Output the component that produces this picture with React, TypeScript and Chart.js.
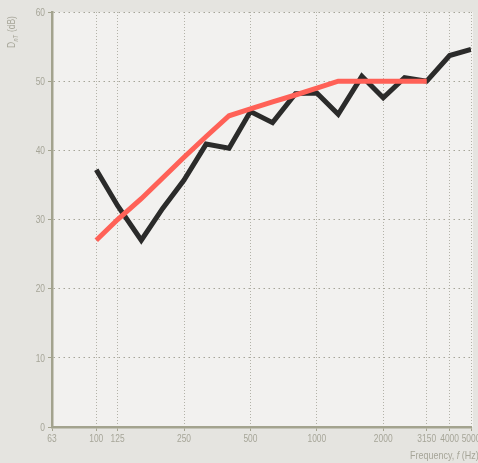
import React, { useEffect, useRef } from "react";
import { Chart, registerables } from "chart.js";

Chart.register(...registerables);

const freqs = [100, 125, 160, 200, 250, 315, 400, 500, 630, 800, 1000, 1250, 1600, 2000, 2500, 3150, 4000, 5000];
const measured = [37.2, 32.0, 27.0, 31.6, 35.7, 40.9, 40.3, 45.6, 44.0, 48.2, 48.3, 45.2, 50.7, 47.6, 50.5, 50.0, 53.7, 54.6];
const refFreqs = [100, 125, 160, 200, 250, 315, 400, 500, 630, 800, 1000, 1250, 1600, 2000, 2500, 3150];
const reference = [27, 30, 33, 36, 39, 42, 45, 46, 47, 48, 49, 50, 50, 50, 50, 50];
const xTicks = [63, 100, 125, 250, 500, 1000, 2000, 3150, 4000, 5000];
const yTicks = [0, 10, 20, 30, 40, 50, 60];

const FONT = "'Liberation Sans', Arial, sans-serif";
const TEXT = "#a6a598";
const SX = 0.78;

type Part = { t: string; italic?: boolean; size: number; dy?: number; gap?: number };

function drawParts(ctx: any, parts: Part[], x: number, y: number, align: "left" | "right" | "center") {
  let total = 0;
  for (const p of parts) {
    ctx.font = (p.italic ? "italic " : "") + p.size + "px " + FONT;
    total += ctx.measureText(p.t).width * SX + (p.gap || 0);
  }
  let cx = align === "left" ? x : align === "right" ? x - total : x - total / 2;
  for (const p of parts) {
    ctx.font = (p.italic ? "italic " : "") + p.size + "px " + FONT;
    ctx.save();
    ctx.translate(cx, y + (p.dy || 0));
    ctx.scale(SX, 1);
    ctx.fillText(p.t, 0, 0);
    ctx.restore();
    cx += ctx.measureText(p.t).width * SX + (p.gap || 0);
  }
}

const bgPlugin = {
  id: "bgPlugin",
  beforeDraw(chart: any) {
    const { ctx, chartArea } = chart;
    ctx.save();
    ctx.fillStyle = "#e5e4e0";
    ctx.fillRect(0, 0, chart.width, chart.height);
    ctx.fillStyle = "#f2f1ef";
    ctx.fillRect(chartArea.left, chartArea.top, chartArea.right - chartArea.left + 2, chartArea.bottom - chartArea.top);
    ctx.restore();
  },
  afterDraw(chart: any) {
    const { ctx } = chart;
    const xs = chart.scales.x;
    const ys = chart.scales.y;
    ctx.save();
    ctx.fillStyle = TEXT;
    ctx.textBaseline = "alphabetic";
    ctx.textAlign = "left";
    for (const v of xTicks) {
      const px = xs.getPixelForValue(v);
      drawParts(ctx, [{ t: String(v), size: 10.8 }], px, 442, "center");
    }
    for (const v of yTicks) {
      const py = ys.getPixelForValue(v);
      drawParts(ctx, [{ t: String(v), size: 10.8 }], 45, py + 3.8, "right");
    }
    drawParts(
      ctx,
      [
        { t: "Frequency, ", size: 11.5 },
        { t: "f", size: 11.5, italic: true, gap: 2.5 },
        { t: "(Hz)", size: 11.5 },
      ],
      410,
      459,
      "left"
    );
    ctx.save();
    ctx.translate(15, 48);
    ctx.rotate(-Math.PI / 2);
    drawParts(
      ctx,
      [
        { t: "D", size: 10.8, gap: 0.5 },
        { t: "nT", size: 7, italic: true, dy: 2.5, gap: 3 },
        { t: "(dB)", size: 10.8 },
      ],
      0,
      0,
      "left"
    );
    ctx.restore();
    ctx.restore();
  },
};

export default function App() {
  const ref = useRef<HTMLCanvasElement | null>(null);
  useEffect(() => {
    document.body.style.margin = "0";
    const chart = new Chart(ref.current as HTMLCanvasElement, {
      type: "line",
      data: {
        datasets: [
          {
            label: "Reference",
            data: refFreqs.map((f, i) => ({ x: f, y: reference[i] })),
            borderColor: "#ff6157",
            borderWidth: 5,
            pointRadius: 0,
            borderCapStyle: "butt",
            borderJoinStyle: "miter",
            tension: 0,
          },
          {
            label: "Measured",
            data: freqs.map((f, i) => ({ x: f, y: measured[i] })),
            borderColor: "#2b2b2a",
            borderWidth: 5,
            pointRadius: 0,
            borderCapStyle: "butt",
            borderJoinStyle: "miter",
            tension: 0,
          },
        ],
      },
      options: {
        animation: false,
        responsive: false,
        maintainAspectRatio: false,
        layout: { padding: { top: 12, right: 7, left: 0, bottom: 0 } },
        plugins: { legend: { display: false }, tooltip: { enabled: false } },
        scales: {
          x: {
            type: "logarithmic",
            min: 63,
            max: 5000,
            afterBuildTicks: (scale: any) => {
              scale.ticks = xTicks.map((v) => ({ value: v }));
            },
            afterFit: (scale: any) => {
              scale.height = 36;
              scale.paddingLeft = 0;
              scale.paddingRight = 0;
            },
            ticks: { display: false, autoSkip: false, maxRotation: 0 },
            grid: {
              color: (c: any) => (c.tick && c.tick.value === 63 ? "rgba(0,0,0,0)" : "#b3b2a8"),
              lineWidth: 1,
              tickColor: "#a3a38e",
              tickLength: 4,
              tickBorderDash: [],
            } as any,
            border: { color: "#a3a38e", width: 2.5, dash: [1, 2] } as any,
          },
          y: {
            min: 0,
            max: 60,
            afterBuildTicks: (scale: any) => {
              scale.ticks = yTicks.map((v) => ({ value: v }));
            },
            afterFit: (scale: any) => {
              scale.width = 52;
              scale.paddingTop = 0;
              scale.paddingBottom = 0;
            },
            ticks: { display: false },
            grid: {
              color: (c: any) => (c.tick && c.tick.value === 0 ? "rgba(0,0,0,0)" : "#a6a598"),
              lineWidth: 1,
              tickColor: "#a3a38e",
              tickLength: 4,
            } as any,
            border: { color: "#a3a38e", width: 2.5, dash: [1.5, 3.5] } as any,
          },
        },
      } as any,
      plugins: [bgPlugin],
    });
    return () => chart.destroy();
  }, []);
  return (
    <div style={{ position: "absolute", left: 0, top: 0, width: 478, height: 463 }}>
      <canvas ref={ref} width={478} height={463} style={{ display: "block" }} />
    </div>
  );
}
